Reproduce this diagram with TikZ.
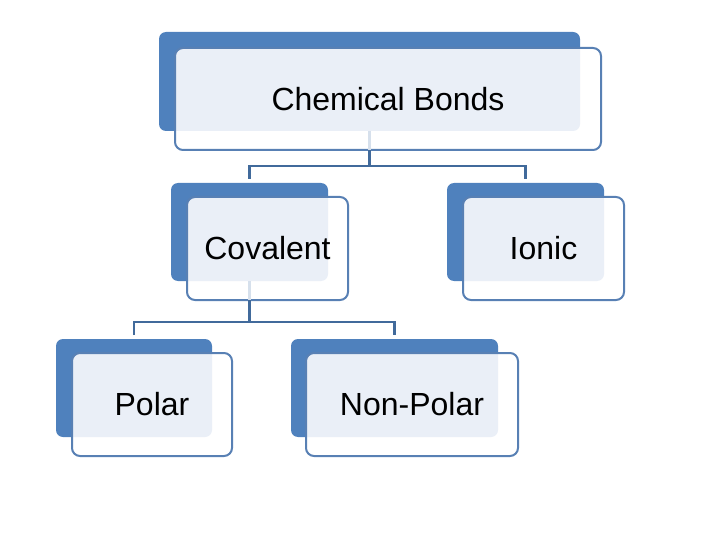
\documentclass[tikz,border=0pt]{standalone}
\usepackage{fontspec}
\setmainfont{Liberation Sans}
\definecolor{backblue}{RGB}{79,129,189}
\definecolor{edgeblue}{RGB}{88,128,180}
\definecolor{linkblue}{RGB}{65,106,155}
\definecolor{paleblue}{RGB}{234,239,247}
\definecolor{faintblue}{RGB}{214,224,236}

\begin{document}
\begin{tikzpicture}[x=1pt,y=1pt,yscale=-1,
  backbox/.style={rectangle,rounded corners=7pt,fill=backblue,inner sep=0pt,outer sep=0pt},
  frontbox/.style={rectangle,rounded corners=8pt,fill=white,inner sep=0pt,outer sep=0pt},
  frontedge/.style={draw=edgeblue,line width=2pt,rounded corners=8pt},
  link/.style={draw=linkblue,line width=2.5pt},
  faintlink/.style={draw=faintblue,line width=2.5pt},
  boxtext/.style={font=\fontsize{32}{38}\selectfont,text=black}]
\path[use as bounding box] (0,0) rectangle (720,540);
%Shape: Back Rectangle [Chemical Bonds]
\node [backbox,minimum width=421pt,minimum height=99pt] (bondsB) at (369.5,81.5) {};
%Shape: Front Rectangle [Chemical Bonds]
\node [frontbox,minimum width=426pt,minimum height=102pt] (bonds) at (388,99) {};
\begin{scope}
\clip [rounded corners=8pt] (bonds.north west) rectangle (bonds.south east);
\fill [paleblue,rounded corners=7pt] (bondsB.north west) rectangle (bondsB.south east);
\end{scope}
\draw [frontedge] (bonds.north west) rectangle (bonds.south east);
%Shape: Back Rectangle [Covalent]
\node [backbox,minimum width=157pt,minimum height=98pt] (covB) at (249.5,232) {};
%Shape: Front Rectangle [Covalent]
\node [frontbox,minimum width=161pt,minimum height=103pt] (cov) at (267.5,248.5) {};
\begin{scope}
\clip [rounded corners=8pt] (cov.north west) rectangle (cov.south east);
\fill [paleblue,rounded corners=7pt] (covB.north west) rectangle (covB.south east);
\end{scope}
\draw [frontedge] (cov.north west) rectangle (cov.south east);
%Shape: Back Rectangle [Ionic]
\node [backbox,minimum width=157pt,minimum height=98pt] (ionB) at (525.5,232) {};
%Shape: Front Rectangle [Ionic]
\node [frontbox,minimum width=161pt,minimum height=103pt] (ion) at (543.5,248.5) {};
\begin{scope}
\clip [rounded corners=8pt] (ion.north west) rectangle (ion.south east);
\fill [paleblue,rounded corners=7pt] (ionB.north west) rectangle (ionB.south east);
\end{scope}
\draw [frontedge] (ion.north west) rectangle (ion.south east);
%Shape: Back Rectangle [Polar]
\node [backbox,minimum width=156pt,minimum height=98pt] (polB) at (134,388) {};
%Shape: Front Rectangle [Polar]
\node [frontbox,minimum width=160pt,minimum height=103pt] (pol) at (152,404.5) {};
\begin{scope}
\clip [rounded corners=8pt] (pol.north west) rectangle (pol.south east);
\fill [paleblue,rounded corners=7pt] (polB.north west) rectangle (polB.south east);
\end{scope}
\draw [frontedge] (pol.north west) rectangle (pol.south east);
%Shape: Back Rectangle [Non-Polar]
\node [backbox,minimum width=207pt,minimum height=98pt] (nonB) at (394.5,388) {};
%Shape: Front Rectangle [Non-Polar]
\node [frontbox,minimum width=212pt,minimum height=103pt] (non) at (412,404.5) {};
\begin{scope}
\clip [rounded corners=8pt] (non.north west) rectangle (non.south east);
\fill [paleblue,rounded corners=7pt] (nonB.north west) rectangle (nonB.south east);
\end{scope}
\draw [frontedge] (non.north west) rectangle (non.south east);
%Straight Lines [forks]
\coordinate (bondsFork) at (369.5,166);
\coordinate (covFork) at (249.5,322);
\draw [faintlink] (bondsB.south) -- (bondsB.south |- bonds.south);
\draw [link] (bondsB.south |- bonds.south) -- (bondsFork);
\draw [link,shorten <=4pt,shorten >=4pt] (covB.north) |- (bondsFork) -| (ionB.north);
\draw [faintlink] (covB.south) -- (covB.south |- cov.south);
\draw [link] (covB.south |- cov.south) -- (covFork);
\draw [link,shorten <=4pt,shorten >=4pt] (polB.north) |- (covFork) -| (nonB.north);
% Text Node
\node [boxtext] (bondsText) at (bonds) {Chemical Bonds};
% Text Node
\node [boxtext] (covText) at (cov) {Covalent};
% Text Node
\node [boxtext] (ionText) at (ion) {Ionic};
% Text Node
\node [boxtext] (polText) at (pol) {Polar};
% Text Node
\node [boxtext] (nonText) at (non) {Non-Polar};
\end{tikzpicture}
\end{document}
